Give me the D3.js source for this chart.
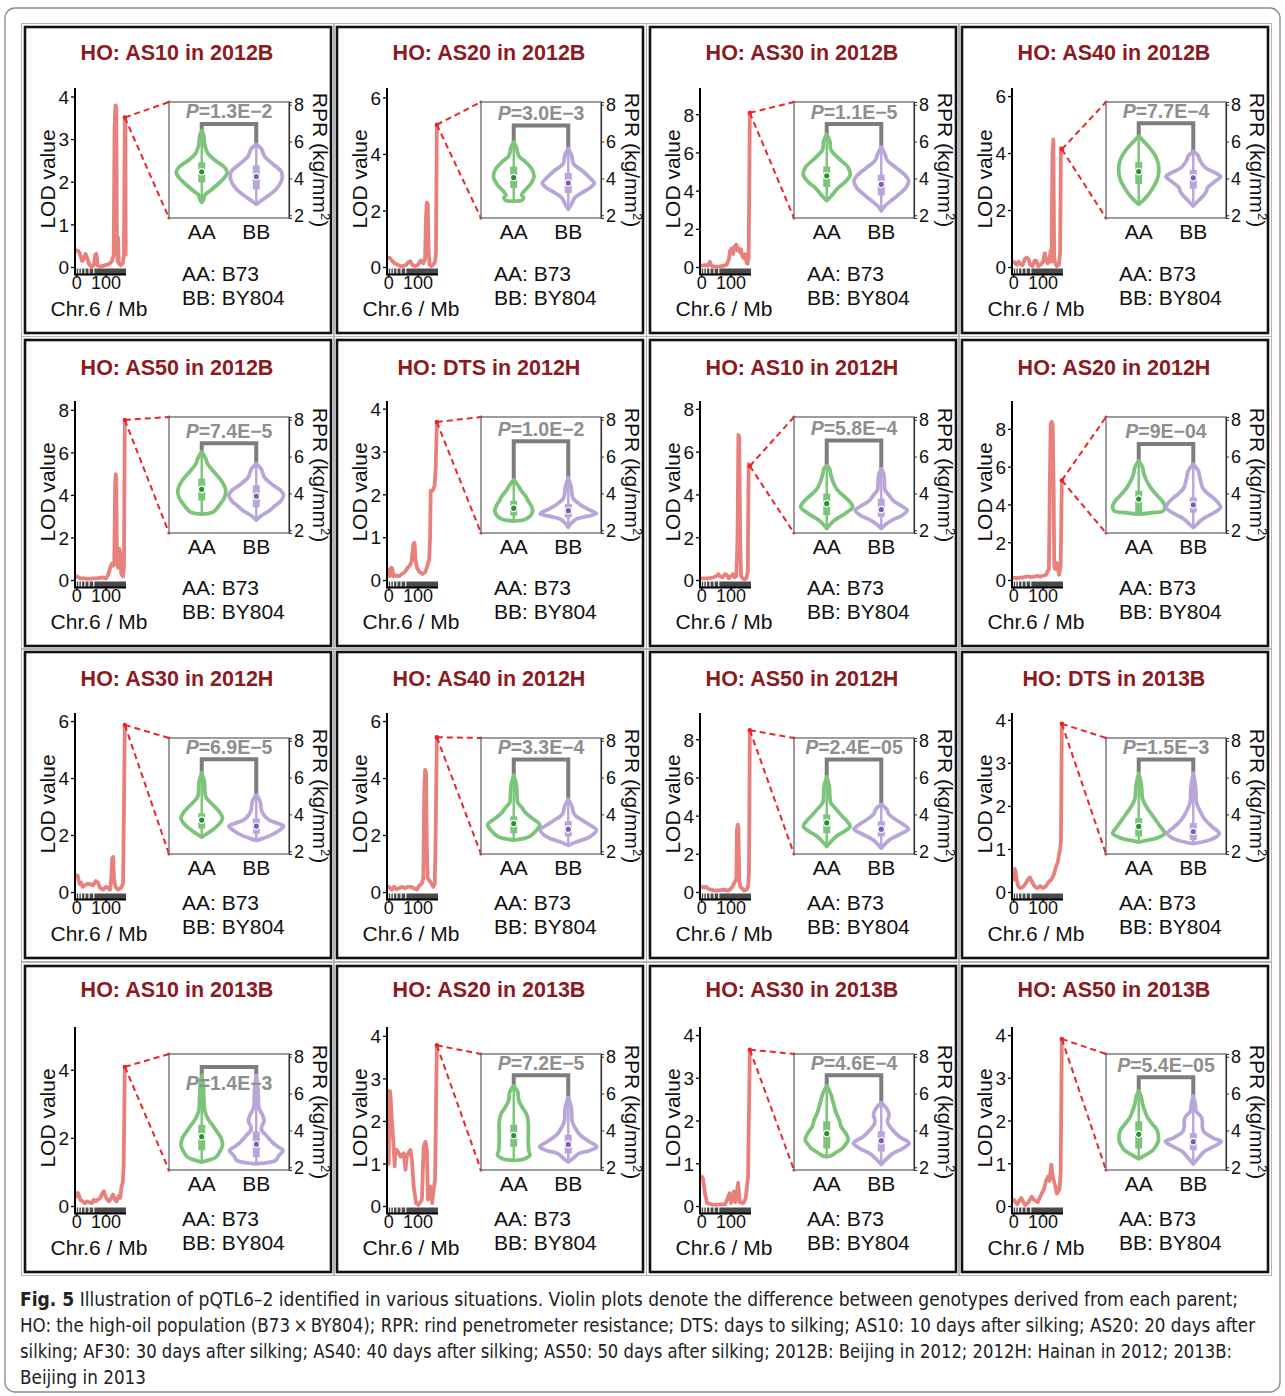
<!DOCTYPE html>
<html><head><meta charset="utf-8">
<script src="https://cdn.jsdelivr.net/npm/d3@7"></script>
<style>body{margin:0;background:#fff}</style>
</head><body>
<svg id="chart" width="1285" height="1396"></svg>
<script>
// ---------------- DATA ----------------
const titles = ["HO: AS10 in 2012B","HO: AS20 in 2012B","HO: AS30 in 2012B","HO: AS40 in 2012B",
  "HO: AS50 in 2012B","HO: DTS in 2012H","HO: AS10 in 2012H","HO: AS20 in 2012H",
  "HO: AS30 in 2012H","HO: AS40 in 2012H","HO: AS50 in 2012H","HO: DTS in 2013B",
  "HO: AS10 in 2013B","HO: AS20 in 2013B","HO: AS30 in 2013B","HO: AS50 in 2013B"];
const pValues = ["1.3E\u22122","3.0E\u22123","1.1E\u22125","7.7E\u22124","7.4E\u22125","1.0E\u22122","5.8E\u22124","9E\u221204",
  "6.9E\u22125","3.3E\u22124","2.4E\u221205","1.5E\u22123","1.4E\u22123","7.2E\u22125","4.6E\u22124","5.4E\u221205"];
const lodTop = [4.21,6.35,9.4,6.3,8.44,4.19,8.39,9.5,6.3,6.3,9.4,4.17,5.27,4.22,4.2,4.2];
const lodTicks = [[0,1,2,3,4],[0,2,4,6],[0,2,4,6,8],[0,2,4,6],[0,2,4,6,8],[0,1,2,3,4],[0,2,4,6,8],[0,2,4,6,8],
  [0,2,4,6],[0,2,4,6],[0,2,4,6,8],[0,1,2,3,4],[0,2,4],[0,1,2,3,4],[0,1,2,3,4],[0,1,2,3,4]];
const chrTicks = [0,100];
const rpTicks = [2,4,6,8];
const genotypes = ["AA","BB"];
const parents = ["AA: B73","BB: BY804"];
const rugSegments = [[0,5],[9,14],[18,26],[30,40],[44,56],[60,168]];
const qtlMb = [164,164,164,164,164,164,164,164,164,164,164,164,164,164,164,164];
const qtlLod = [3.52,5.05,8.1,4.15,7.55,3.7,5.35,5.3,5.88,5.45,8.5,3.92,4.1,3.79,3.67,3.92];

const lodCurves = [
 [[0,0.4],[6,0.38],[12,0.3],[18,0.15],[24,0.2],[30,0.32],[36,0.22],[42,0.08],[50,0.02],[58,0.05],[63,0.3],[67,0.32],[71,0.05],[80,0.02],[95,0.05],[110,0.08],[120,0.15],[126,0.3],[129,3.3],[132,3.8],[135,3.75],[137,0.6],[139,0.15],[141,0.7],[143,0.1],[150,0.05],[157,0.1],[161,0.3],[164,3.52],[166,3.4],[167,0.3]],
 [[0,0.35],[5,0.33],[10,0.25],[20,0.15],[30,0.1],[40,0.05],[50,0.05],[60,0.1],[68,0.2],[74,0.22],[80,0.1],[90,0.05],[100,0.1],[110,0.25],[118,0.15],[124,0.3],[127,1.8],[130,2.3],[133,2.25],[136,0.6],[139,0.1],[145,0.05],[152,0.1],[158,0.2],[161,0.5],[164,5.05]],
 [[0,0.1],[10,0.12],[20,0.1],[28,0.3],[32,0.1],[45,0.05],[60,0.05],[75,0.1],[85,0.15],[92,0.4],[97,0.9],[102,1.0],[107,0.7],[112,1.1],[118,1.2],[122,0.9],[126,1.0],[130,0.8],[134,0.95],[138,0.6],[143,0.5],[148,0.7],[152,0.3],[156,0.2],[160,0.5],[164,8.1]],
 [[0,0.2],[5,0.15],[10,0.1],[16,0.2],[22,0.12],[30,0.08],[38,0.3],[44,0.35],[50,0.3],[56,0.1],[64,0.05],[72,0.25],[78,0.22],[84,0.05],[92,0.1],[100,0.2],[106,0.5],[110,0.3],[116,0.15],[122,0.3],[126,0.6],[129,0.2],[132,4.0],[135,4.5],[138,0.3],[143,0.1],[148,0.05],[154,0.1],[158,0.5],[161,4.2],[164,4.15]],
 [[0,0.2],[6,0.15],[12,0.1],[25,0.1],[40,0.08],[55,0.1],[70,0.1],[85,0.15],[100,0.1],[108,0.3],[114,0.6],[120,0.8],[125,0.7],[128,0.9],[131,4.5],[133,5.0],[135,4.8],[137,0.8],[141,0.6],[145,1.5],[148,1.3],[152,0.3],[158,0.2],[161,0.6],[164,7.55]],
 [[0,0.25],[4,0.1],[8,0.3],[12,0.28],[16,0.1],[25,0.12],[35,0.1],[45,0.15],[55,0.2],[65,0.3],[72,0.35],[78,0.45],[84,0.85],[88,0.88],[91,0.5],[96,0.3],[105,0.2],[115,0.15],[125,0.2],[132,0.35],[138,0.5],[141,1.0],[143,2.1],[150,2.1],[156,2.2],[160,2.6],[164,3.7]],
 [[0,0.1],[10,0.1],[20,0.1],[30,0.12],[40,0.15],[50,0.2],[56,0.3],[62,0.2],[70,0.15],[80,0.3],[86,0.25],[92,0.1],[100,0.2],[106,0.3],[112,0.15],[118,0.2],[122,2.0],[125,6.8],[128,6.7],[131,2.0],[134,0.2],[140,0.1],[146,0.05],[152,0.1],[157,0.4],[160,5.45],[164,5.35]],
 [[0,0.15],[10,0.12],[20,0.15],[30,0.15],[40,0.2],[50,0.2],[60,0.18],[70,0.2],[80,0.25],[90,0.2],[100,0.25],[110,0.3],[116,0.5],[120,0.6],[123,5.0],[126,8.3],[130,8.4],[133,8.2],[136,5.0],[138,0.8],[141,0.6],[145,0.9],[149,0.9],[152,0.5],[155,0.3],[160,0.8],[164,5.3]],
 [[0,0.55],[3,0.6],[6,0.45],[10,0.3],[15,0.35],[20,0.2],[28,0.25],[35,0.3],[45,0.3],[55,0.25],[65,0.4],[72,0.35],[80,0.15],[90,0.1],[100,0.2],[108,0.15],[114,0.1],[118,0.5],[121,1.2],[124,1.25],[127,0.5],[132,0.2],[140,0.1],[150,0.15],[158,0.3],[161,3.0],[164,5.88]],
 [[0,0.2],[5,0.15],[10,0.1],[18,0.2],[26,0.12],[35,0.15],[45,0.2],[55,0.15],[65,0.2],[75,0.2],[85,0.15],[95,0.1],[105,0.25],[112,0.3],[118,0.5],[121,3.5],[124,4.3],[127,4.2],[130,1.5],[133,0.5],[140,0.4],[146,0.3],[152,0.2],[157,0.3],[160,2.0],[164,5.45]],
 [[0,0.3],[8,0.25],[15,0.3],[22,0.2],[30,0.15],[45,0.1],[60,0.12],[75,0.15],[90,0.1],[100,0.2],[108,0.4],[114,0.6],[118,0.7],[120,3.3],[123,3.55],[125,3.4],[128,0.6],[132,0.3],[138,0.2],[145,0.1],[152,0.15],[158,0.3],[161,1.0],[164,8.5]],
 [[0,0.3],[3,0.55],[6,0.5],[10,0.3],[15,0.15],[22,0.1],[30,0.12],[40,0.2],[48,0.3],[55,0.35],[62,0.25],[70,0.15],[80,0.1],[90,0.15],[100,0.1],[110,0.15],[120,0.25],[128,0.3],[136,0.4],[144,0.6],[150,0.7],[155,0.9],[158,1.0],[161,1.2],[164,3.92]],
 [[0,0.3],[3,0.4],[7,0.35],[12,0.2],[20,0.15],[28,0.1],[36,0.15],[44,0.12],[52,0.1],[58,0.2],[64,0.15],[72,0.2],[80,0.25],[88,0.4],[93,0.45],[98,0.3],[104,0.2],[110,0.15],[118,0.25],[124,0.35],[130,0.2],[136,0.15],[142,0.3],[148,0.25],[153,0.6],[157,0.7],[160,1.2],[164,4.1]],
 [[0,1.0],[2,2.72],[5,2.7],[11,2.0],[17,1.37],[20,0.94],[23,1.33],[28,1.33],[40,1.17],[51,1.25],[57,0.86],[62,1.2],[74,1.33],[79,1.1],[85,0.47],[93,0.08],[102,0.04],[113,0.16],[119,1.4],[125,1.52],[130,1.33],[134,0.16],[142,0.47],[148,0.08],[153,0.4],[158,0.62],[164,3.79]],
 [[0,0.7],[4,0.66],[11,0.31],[18,0.08],[38,0.04],[60,0.05],[80,0.05],[95,0.31],[100,0.08],[110,0.35],[115,0.1],[124,0.55],[130,0.1],[142,0.08],[150,0.2],[158,0.7],[164,3.67]],
 [[0,0.16],[6,0.1],[12,0.05],[20,0.15],[26,0.2],[33,0.1],[40,0.03],[50,0.1],[61,0.23],[70,0.15],[82,0.1],[95,0.3],[103,0.4],[110,0.6],[117,0.7],[122,0.6],[128,0.98],[133,0.7],[142,0.47],[147,0.3],[156,0.4],[160,0.8],[164,3.92]]
];

// violin density profiles: [RPR, relative half-width], from top to bottom
const aaViolins = [
 [[6.6,0],[6.3,0.08],[5.8,0.12],[5.4,0.22],[5.0,0.5],[4.6,0.88],[4.3,0.98],[4.0,0.85],[3.6,0.55],[3.3,0.3],[3.1,0.12],[2.9,0.08],[2.7,0]],
 [[5.98,0],[5.7,0.1],[5.2,0.2],[4.9,0.45],[4.5,0.7],[4.1,0.78],[3.7,0.65],[3.3,0.4],[3.1,0.3],[2.95,0.38],[2.8,0.3],[2.77,0]],
 [[6.4,0],[6.0,0.12],[5.56,0.16],[5.1,0.45],[4.6,0.82],[4.18,0.9],[3.8,0.7],[3.5,0.45],[3.26,0.3],[3.0,0.15],[2.8,0]],
 [[6.3,0],[6.0,0.2],[5.7,0.4],[5.2,0.65],[4.8,0.75],[4.37,0.77],[3.9,0.7],[3.5,0.55],[3.17,0.4],[2.85,0.2],[2.6,0]],
 [[6.26,0],[5.9,0.15],[5.62,0.22],[5.2,0.45],[4.7,0.75],[4.2,0.92],[3.8,0.88],[3.4,0.7],[3.0,0.45],[2.9,0.2],[2.88,0]],
 [[4.75,0],[4.4,0.18],[4.13,0.3],[3.8,0.48],[3.6,0.55],[3.3,0.68],[3.06,0.73],[2.8,0.65],[2.6,0.45],[2.5,0]],
 [[5.52,0],[5.3,0.12],[5.07,0.15],[4.6,0.25],[4.2,0.4],[3.99,0.55],[3.6,0.85],[3.26,1.0],[2.9,0.7],[2.54,0.3],[2.3,0.12],[2.09,0]],
 [[5.78,0],[5.4,0.15],[5.05,0.2],[4.7,0.3],[4.33,0.45],[3.9,0.7],[3.6,0.9],[3.33,1.0],[3.05,0.95],[2.95,0.5],[2.87,0]],
 [[6.26,0],[5.8,0.1],[5.3,0.12],[4.97,0.15],[4.7,0.3],[4.42,0.5],[4.1,0.7],[3.78,0.8],[3.45,0.65],[3.14,0.4],[2.95,0.2],[2.77,0]],
 [[6.14,0],[5.6,0.1],[5.0,0.13],[4.65,0.15],[4.4,0.3],[4.1,0.45],[3.8,0.7],[3.44,1.0],[3.1,0.85],[2.79,0.6],[2.7,0.4],[2.6,0]],
 [[6.04,0],[5.5,0.1],[5.0,0.12],[4.65,0.15],[4.3,0.35],[3.9,0.6],[3.6,0.8],[3.35,0.9],[3.1,0.7],[2.79,0.35],[2.5,0.15],[2.26,0]],
 [[6.23,0],[5.6,0.1],[5.2,0.12],[4.83,0.15],[4.4,0.3],[3.9,0.55],[3.4,0.8],[2.97,1.0],[2.75,0.75],[2.64,0.5],[2.5,0]],
 [[6.99,0],[6.5,0.06],[5.8,0.08],[5.05,0.12],[4.6,0.25],[4.31,0.4],[3.9,0.6],[3.57,0.75],[3.2,0.8],[2.85,0.7],[2.55,0.55],[2.4,0.3],[2.28,0]],
 [[6.43,0],[6.1,0.15],[5.6,0.2],[5.2,0.35],[4.86,0.5],[4.4,0.56],[3.8,0.56],[3.3,0.56],[2.9,0.58],[2.65,0.62],[2.45,0.4],[2.37,0]],
 [[6.43,0],[6.0,0.15],[5.51,0.25],[5.0,0.35],[4.5,0.5],[4.22,0.55],[3.8,0.75],[3.48,0.83],[3.2,0.7],[3.02,0.6],[2.8,0.35],[2.65,0.2],[2.56,0]],
 [[6.16,0],[5.8,0.1],[5.42,0.15],[5.0,0.25],[4.68,0.35],[4.3,0.55],[4.03,0.7],[3.48,0.76],[3.2,0.68],[2.93,0.55],[2.7,0.3],[2.46,0]]
];
const bbViolins = [
 [[5.85,0],[5.6,0.2],[5.2,0.32],[4.8,0.62],[4.4,0.95],[4.1,1.0],[3.8,0.95],[3.4,0.75],[3.0,0.4],[2.75,0.15],[2.6,0]],
 [[5.63,0],[5.3,0.12],[4.8,0.2],[4.4,0.55],[4.0,0.85],[3.75,1.0],[3.5,0.85],[3.2,0.5],[2.95,0.25],[2.6,0.12],[2.32,0]],
 [[5.7,0],[5.3,0.15],[5.0,0.22],[4.6,0.55],[4.2,0.9],[3.9,1.05],[3.5,0.95],[3.1,0.65],[2.7,0.3],[2.45,0.1],[2.24,0]],
 [[5.47,0],[5.2,0.2],[5.0,0.25],[4.6,0.45],[4.3,0.85],[4.1,1.05],[3.8,0.8],[3.5,0.55],[3.3,0.5],[3.0,0.35],[2.8,0.2],[2.5,0]],
 [[5.62,0],[5.3,0.2],[4.9,0.3],[4.5,0.6],[4.15,0.95],[3.9,1.05],[3.6,0.95],[3.3,0.7],[3.06,0.5],[2.8,0.2],[2.55,0]],
 [[4.84,0],[4.4,0.1],[3.9,0.15],[3.7,0.2],[3.4,0.45],[3.15,0.75],[2.9,1.08],[2.75,0.7],[2.6,0.3],[2.35,0.1],[2.16,0]],
 [[5.34,0],[5.0,0.1],[4.6,0.12],[4.17,0.15],[3.9,0.3],[3.62,0.45],[3.3,0.8],[3.08,1.0],[2.8,0.8],[2.54,0.4],[2.3,0.15],[2.09,0]],
 [[5.6,0],[5.2,0.2],[4.87,0.25],[4.6,0.3],[4.33,0.35],[4.0,0.55],[3.78,0.75],[3.5,0.95],[3.24,1.05],[2.87,0.7],[2.6,0.35],[2.33,0.15],[2.15,0]],
 [[5.06,0],[4.7,0.15],[4.24,0.2],[3.95,0.3],[3.69,0.5],[3.5,0.85],[3.36,1.05],[3.1,0.85],[2.86,0.55],[2.7,0.25],[2.59,0]],
 [[4.83,0],[4.4,0.15],[4.09,0.2],[3.9,0.3],[3.72,0.5],[3.45,0.8],[3.16,1.08],[2.9,0.95],[2.69,0.7],[2.5,0.3],[2.32,0]],
 [[4.55,0],[4.3,0.2],[4.0,0.3],[3.72,0.55],[3.45,0.85],[3.2,1.05],[2.95,0.75],[2.6,0.3],[2.35,0.12],[2.17,0]],
 [[6.23,0],[5.6,0.08],[5.1,0.1],[4.65,0.12],[4.2,0.25],[3.72,0.45],[3.3,0.75],[2.97,1.0],[2.75,0.85],[2.6,0.6],[2.41,0]],
 [[6.99,0],[6.3,0.06],[5.7,0.08],[5.24,0.1],[4.8,0.25],[4.5,0.3],[4.25,0.22],[4.03,0.2],[3.7,0.4],[3.38,0.6],[3.1,0.85],[2.92,1.03],[2.6,0.85],[2.37,0.75],[2.18,0]],
 [[5.79,0],[5.2,0.12],[4.49,0.15],[4.1,0.28],[3.76,0.45],[3.4,0.8],[3.11,1.1],[2.9,0.8],[2.74,0.4],[2.5,0.2],[2.28,0]],
 [[5.51,0],[5.2,0.2],[4.86,0.3],[4.6,0.25],[4.4,0.25],[4.0,0.45],[3.66,0.7],[3.3,1.07],[3.0,0.8],[2.75,0.45],[2.45,0.2],[2.15,0]],
 [[5.88,0],[5.4,0.08],[5.05,0.1],[4.75,0.3],[4.5,0.35],[4.2,0.35],[3.94,0.4],[3.6,0.75],[3.39,1.07],[3.1,0.75],[2.83,0.4],[2.5,0.2],[2.18,0]]
];
// box stats [q1, median, q3]
const aaBoxes = [[3.78,4.36,4.87],[3.48,4.05,4.64],[3.53,4.14,4.64],[3.7,4.37,4.9],[3.61,4.22,4.8],[2.8,3.2,3.6],[2.82,3.44,3.99],[2.96,3.69,4.15],
  [3.23,3.69,4.06],[2.97,3.5,3.9],[2.97,3.54,4.0],[2.8,3.35,3.8],[2.92,3.66,4.31],[3.11,3.72,4.31],[3.02,3.83,4.5],[3.02,3.79,4.5]];
const bbBoxes = [[3.4,4.1,4.7],[3.2,3.75,4.3],[3.07,3.68,4.2],[3.44,4.03,4.46],[3.25,3.85,4.44],[2.7,3.06,3.42],[2.72,3.12,3.71],[2.96,3.38,3.78],
  [2.95,3.36,3.78],[2.8,3.2,3.63],[2.8,3.2,3.63],[2.6,3.07,3.53],[2.55,3.25,3.94],[2.74,3.24,3.76],[2.85,3.44,3.96],[2.92,3.39,3.85]];
const bracketRPR = [6.96,6.88,6.95,7.0,6.72,6.83,6.88,6.69,6.99,6.98,6.98,6.98,7.45,6.99,6.99,6.89];
const pLabelRPR = [7.26,7.18,7.25,7.3,7.02,7.13,7.18,6.99,7.29,7.28,7.28,7.28,6.2,7.29,7.29,7.19];

const captionLines = [
  ["Fig. 5", " Illustration of pQTL6\u20132 identified in various situations. Violin plots denote the difference between genotypes derived from each parent;"],
  ["", "HO: the high-oil population (B73\u2009\u00d7\u2009BY804); RPR: rind penetrometer resistance; DTS: days to silking; AS10: 10 days after silking; AS20: 20 days after"],
  ["", "silking; AF30: 30 days after silking; AS40: 40 days after silking; AS50: 50 days after silking; 2012B: Beijing in 2012; 2012H: Hainan in 2012; 2013B:"],
  ["", "Beijing in 2013"]
];

// ---------------- DRAW ----------------
const FONT = "'Liberation Sans', Arial, Helvetica, sans-serif";
const svg = d3.select('#chart').attr('font-family', FONT);
svg.append('rect').attr('width',1285).attr('height',1396).attr('fill','#fff');
svg.append('rect').attr('x',5).attr('y',8).attr('width',1275).attr('height',1384).attr('rx',10)
  .attr('fill','none').attr('stroke','#8a8a8a').attr('stroke-width',1.3);

const colX = [25, 337, 650, 962], rowY = [27, 340, 652, 966];
const PW = 306, PH = 306;
const insetTop = [75, 77, 86, 88];
const titleY = [33, 35, 34, 31];
const legendY = [254, 255, 258, 260];
const GREEN = '#7cc47a', PURPLE = '#b8a6d8';
const GREEN_D = '#2e8b3a', PURPLE_D = '#7a5eb0';
const LODC = '#e8807e';

titles.forEach((t, i) => {
  const r = Math.floor(i / 4), c = i % 4;
  const g = svg.append('g').attr('transform', `translate(${colX[c]},${rowY[r]})`);
  g.append('rect').attr('x',-3.5).attr('y',-3.5).attr('width',PW+7).attr('height',PH+7)
    .attr('fill','none').attr('stroke','#b5b5b5').attr('stroke-width',1);
  g.append('rect').attr('width',PW).attr('height',PH).attr('fill','#fff')
    .attr('stroke','#111').attr('stroke-width',2.6);

  g.append('text').attr('x',152).attr('y',titleY[r]).attr('text-anchor','middle')
    .attr('font-weight','bold').attr('font-size',21.5).attr('fill','#8c1a1f').text(t);

  // ---- LOD plot ----
  const zeroY = 240.5, axisY = 247.5;
  const x = d3.scaleLinear().domain([-6,168]).range([50,101]);
  const y = d3.scaleLinear().domain([0, lodTop[i]]).range([zeroY, 61]);

  // marker rug
  g.append('g').selectAll('rect').data(rugSegments).join('rect')
    .attr('x', d => x(d[0])).attr('width', d => x(d[1]) - x(d[0]))
    .attr('y', zeroY + 1).attr('height', axisY - zeroY - 1.5).attr('fill','#4a4a4a');

  const line = d3.line().x(d => x(d[0])).y(d => y(d[1]));
  g.append('path').datum(lodCurves[i]).attr('d', line).attr('fill','none')
    .attr('stroke', LODC).attr('stroke-width',3.8).attr('stroke-linejoin','round').attr('stroke-linecap','round');

  // axes
  g.append('line').attr('x1',50).attr('x2',50).attr('y1',61).attr('y2',axisY).attr('stroke','#000').attr('stroke-width',2);
  g.append('line').attr('x1',49).attr('x2',101).attr('y1',axisY).attr('y2',axisY).attr('stroke','#000').attr('stroke-width',2);
  const yt = g.append('g').selectAll('g').data(lodTicks[i]).join('g');
  yt.append('line').attr('x1',46).attr('x2',50).attr('y1',d=>y(d)).attr('y2',d=>y(d)).attr('stroke','#000').attr('stroke-width',1.3);
  yt.append('text').attr('x',44).attr('y',d=>y(d)).attr('dy','0.36em').attr('text-anchor','end')
    .attr('font-size',19).attr('fill','#111').text(d=>d);
  const xt = g.append('g').selectAll('g').data(chrTicks).join('g');
  xt.append('line').attr('x1',d=>x(d)).attr('x2',d=>x(d)).attr('y1',axisY).attr('y2',axisY+3).attr('stroke','#000').attr('stroke-width',1.3);
  xt.append('text').attr('x',d=>x(d)).attr('y',262).attr('text-anchor','middle')
    .attr('font-size',18).attr('fill','#111').text(d=>d);
  g.append('text').attr('x',74).attr('y',289).attr('text-anchor','middle').attr('font-size',21).attr('fill','#111').text('Chr.6 / Mb');
  g.append('text').attr('transform','translate(30,152) rotate(-90)').attr('text-anchor','middle')
    .attr('font-size',21).attr('fill','#111').text('LOD value');

  // ---- inset violin ----
  const top = insetTop[r], bot = top + 116, L = 144, R = 264;
  const yR = d3.scaleLinear().domain([1.85, 8.15]).range([bot, top]);
  const xR = d3.scalePoint().domain(genotypes).range([L, R]).padding(0.6);

  // dashed zoom lines
  const px = x(qtlMb[i]), py = y(qtlLod[i]);
  [top, bot].forEach(yy => g.append('line').attr('x1',px).attr('y1',py).attr('x2',L).attr('y2',yy)
    .attr('stroke','#e8262b').attr('stroke-width',2).attr('stroke-dasharray','6,4'));
  g.append('circle').attr('cx',px).attr('cy',py).attr('r',2.2).attr('fill','#e8262b');
  g.append('circle').attr('cx',L).attr('cy',top).attr('r',1.6).attr('fill','#e8262b');
  g.append('circle').attr('cx',L).attr('cy',bot).attr('r',1.6).attr('fill','#e8262b');

  g.append('rect').attr('x',L).attr('y',top).attr('width',R-L).attr('height',bot-top)
    .attr('fill','#fff').attr('stroke','#6a6a6a').attr('stroke-width',1.3);
  const ax = g.append('g').attr('transform',`translate(${R},0)`)
    .call(d3.axisRight(yR).tickValues(rpTicks).tickFormat(d3.format('d')).tickSize(3).tickPadding(2));
  ax.select('.domain').attr('stroke','#333').attr('stroke-width',1.2);
  ax.selectAll('line').attr('stroke','#333');
  ax.selectAll('text').attr('font-size',18).attr('fill','#111').attr('font-family',FONT);

  const rt = g.append('text').attr('transform',`translate(288,${(top+bot)/2}) rotate(90)`)
    .attr('text-anchor','middle').attr('font-size',21).attr('fill','#111');
  rt.append('tspan').text('RPR (kg/mm');
  rt.append('tspan').attr('font-size',13).attr('dy',-8).text('2');
  rt.append('tspan').attr('dy',8).text(')');

  g.selectAll('.gl').data(genotypes).join('text').attr('x',d=>xR(d)).attr('y',bot+21)
    .attr('text-anchor','middle').attr('font-size',21).attr('fill','#111').text(d=>d);

  // bracket
  const aTop = aaViolins[i][0][0], bTop = bbViolins[i][0][0];
  g.append('path').attr('d',`M${xR('AA')},${yR(aTop)}V${yR(bracketRPR[i])}H${xR('BB')}V${yR(bTop)}`)
    .attr('fill','none').attr('stroke','#7d7d7d').attr('stroke-width',4).attr('stroke-linejoin','miter');

  // violins
  const W = 26;
  [[aaViolins[i], aaBoxes[i], GREEN, GREEN_D, 'AA'], [bbViolins[i], bbBoxes[i], PURPLE, PURPLE_D, 'BB']].forEach(([prof, box, col, dcol, key]) => {
    const cx = xR(key);
    const area = d3.area().y(d => yR(d[0])).x0(d => cx - d[1]*W).x1(d => cx + d[1]*W).curve(d3.curveCatmullRom);
    g.append('path').attr('d', area(prof)).attr('fill','#fff').attr('stroke',col)
      .attr('stroke-width',3.8).attr('stroke-linejoin','round');
    g.append('line').attr('x1',cx).attr('x2',cx).attr('y1',yR(prof[0][0])).attr('y2',yR(prof[prof.length-1][0]))
      .attr('stroke',col).attr('stroke-width',2.4);
    g.append('rect').attr('x',cx-3.5).attr('width',7).attr('y',yR(box[2])).attr('height',yR(box[0])-yR(box[2])).attr('fill',col);
    g.append('circle').attr('cx',cx).attr('cy',yR(box[1])).attr('r',3.2).attr('fill',dcol).attr('stroke','#fff').attr('stroke-width',1.2);
  });

  // p label
  const pt = g.append('text').attr('x',(xR('AA')+xR('BB'))/2).attr('y',yR(pLabelRPR[i]))
    .attr('text-anchor','middle').attr('font-size',19.5).attr('font-weight','bold').attr('fill','#8e8e8e');
  pt.append('tspan').attr('font-style','italic').text('P');
  pt.append('tspan').text('=' + pValues[i]);

  // parents legend
  g.selectAll('.pl').data(parents).join('text').attr('x',157).attr('y',(d,k)=>legendY[r] + k*24)
    .attr('font-size',21).attr('fill','#111').text(d=>d);
});

// caption
const capW = [1218, 1235, 1212, 126];
const capY = [1306, 1332, 1358, 1384];
captionLines.forEach((ln, k) => {
  const t = svg.append('text').attr('x',20).attr('y',capY[k]).attr('font-size',19)
    .attr('font-family',"'Liberation Sans Narrow','DejaVu Sans Condensed','Roboto Condensed',sans-serif")
    .attr('fill','#222').attr('textLength',capW[k]).attr('lengthAdjust','spacingAndGlyphs');
  if (ln[0]) t.append('tspan').attr('font-weight','bold').text(ln[0]);
  t.append('tspan').text(ln[1]);
});
</script>
</body></html>
